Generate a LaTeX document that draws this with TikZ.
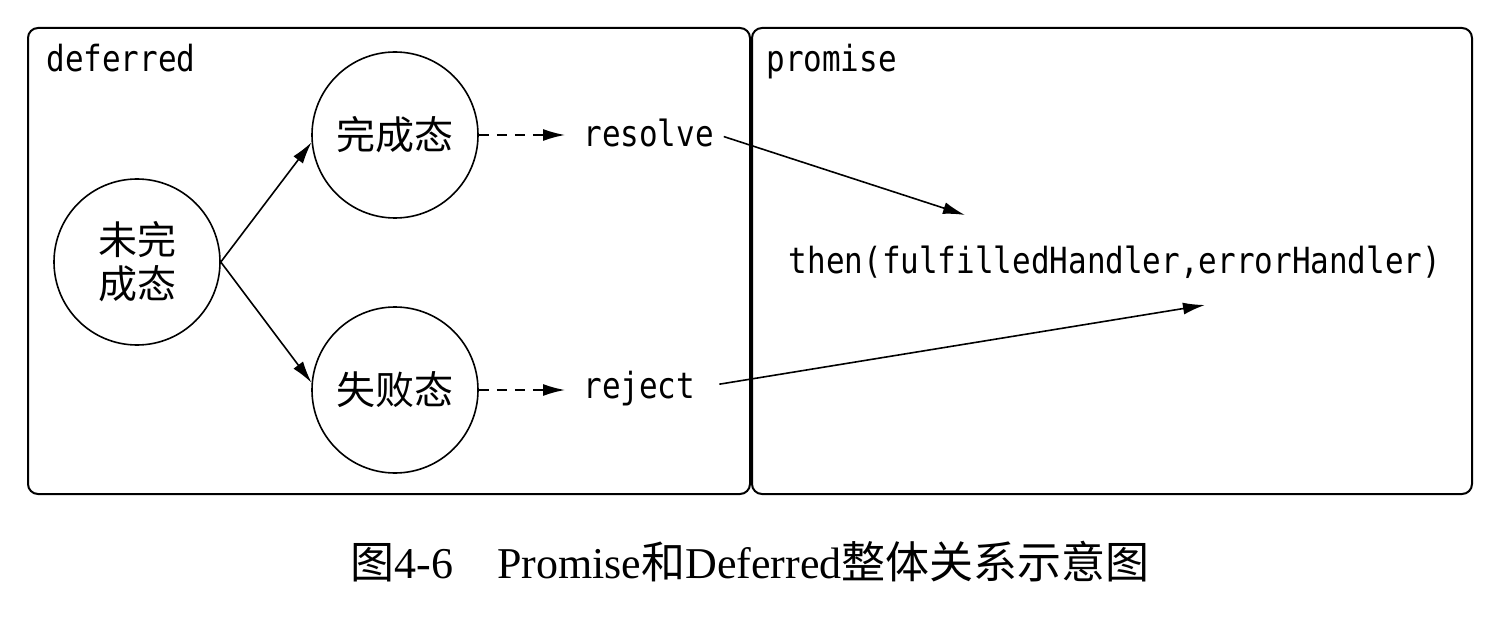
\documentclass[tikz,border=0pt]{standalone}
\usepackage{fontspec}
\setmainfont{Liberation Serif}
\newfontfamily\cjk{Noto Sans CJK SC}
\newfontfamily\codefont[FakeStretch=0.86]{DejaVu Sans Mono}
\usetikzlibrary{arrows.meta}

\begin{document}
\begin{tikzpicture}[x=0.5pt, y=-0.5pt,
    box/.style={draw, line width=1pt, rounded corners=5pt},
    state/.style={draw, circle, line width=0.8pt, minimum size=83pt, inner sep=0pt, align=center, font=\cjk\fontsize{19.5}{22}\selectfont},
    code/.style={font=\codefont\fontsize{18}{20}\selectfont, inner sep=0pt},
    tip/.style={-{Latex[length=11pt, width=6pt]}, line width=0.8pt}]
    % Promise and Deferred: states feed resolve/reject, which feed then()
    \useasboundingbox (0,0) rectangle (1512,626);
    \draw[box] (28,28) rectangle (750,494);
    \draw[box] (752,28) rectangle (1472,494);
    \node[code, anchor=base west] (deferredlbl) at (46,72) {deferred};
    \node[code, anchor=base west] (promiselbl) at (766,72) {promise};
    \node[state] (pending) at (137,262) {未完\\成态};
    \node[state] (fulfilled) at (395,135) {完成态};
    \node[state] (rejected) at (395,390) {失败态};
    \node[code, anchor=base west] (resolve) at (583,147) {resolve};
    \node[code, anchor=base west] (reject) at (583,398) {reject};
    \node[code, anchor=base] (then) at (1115,273) {then(fulfilledHandler,errorHandler)};
    \coordinate (fulfillin) at (965,215);
    \coordinate (rejectin) at (1205,305);
    \draw[tip] (pending.east) -- (fulfilled.185);
    \draw[tip] (pending.east) -- (rejected.175);
    \draw[tip, dash pattern=on 5pt off 4pt, shorten >=9pt] (fulfilled) -- (fulfilled -| resolve.west);
    \draw[tip, dash pattern=on 5pt off 4pt, shorten >=9pt] (rejected) -- (rejected -| reject.west);
    \draw[tip, shorten <=5pt] (resolve.east) -- (fulfillin);
    \draw[tip, shorten <=12pt] (reject.east) -- (rejectin);
    \node[font=\fontsize{22}{26}\selectfont, anchor=base] (caption) at (750,578)
        {{\cjk 图}4-6\quad Promise{\cjk 和}Deferred{\cjk 整体关系示意图}};
\end{tikzpicture}
\end{document}
